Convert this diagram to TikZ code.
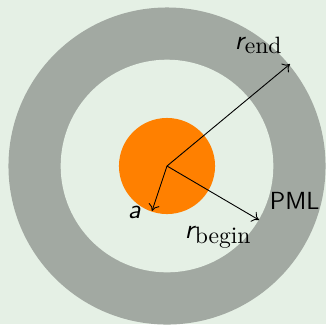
\documentclass[tikz,border=0pt]{standalone}
\usepackage{tikz}
\usetikzlibrary{arrows.meta}
\definecolor{bgc}{RGB}{229,240,229}
\definecolor{pmlc}{RGB}{162,169,162}
\definecolor{corec}{RGB}{255,128,0}
\tikzset{
  radarrow/.style={-{To[length=3pt,width=5pt]}, line width=0.4pt, black},
  lbl/.style={inner sep=0pt, anchor=base west}
}
\newcommand{\sfit}[1]{{\fontsize{12}{14}\selectfont\sffamily\itshape #1}}
\newcommand{\subtx}[1]{\raisebox{-2.2pt}{\fontsize{10.5}{12}\selectfont\rmfamily #1}}
\begin{document}
\begin{tikzpicture}[x=0.4444pt,y=-0.4444pt]
\fill[bgc] (0,0) rectangle (326,324);
\useasboundingbox (0,0) rectangle (326,324);
\coordinate (c) at (167,166);
\fill[pmlc] (c) circle[radius=70.45pt];
\fill[bgc] (c) circle[radius=47.25pt];
\fill[corec] (c) circle[radius=21.35pt];
\coordinate (eend) at (290,64);
\coordinate (ebegin) at (259,220);
\coordinate (ea) at (152,211);
\draw[radarrow] (c) -- (eend);
\draw[radarrow] (c) -- (ebegin);
\draw[radarrow] (c) -- (ea);
\node[lbl] (lend) at (234.5,49) {\sfit{r}\hspace{0.4pt}\subtx{end}};
\node[lbl] (lbegin) at (184.5,238.5) {\sfit{r}\hspace{0.4pt}\subtx{begin}};
\node[lbl] (la) at (127.5,218) {\sfit{a}};
\node[lbl] (lpml) at (269.5,209.3) {\fontsize{11}{13}\selectfont\sffamily PML};
\end{tikzpicture}
\end{document}
